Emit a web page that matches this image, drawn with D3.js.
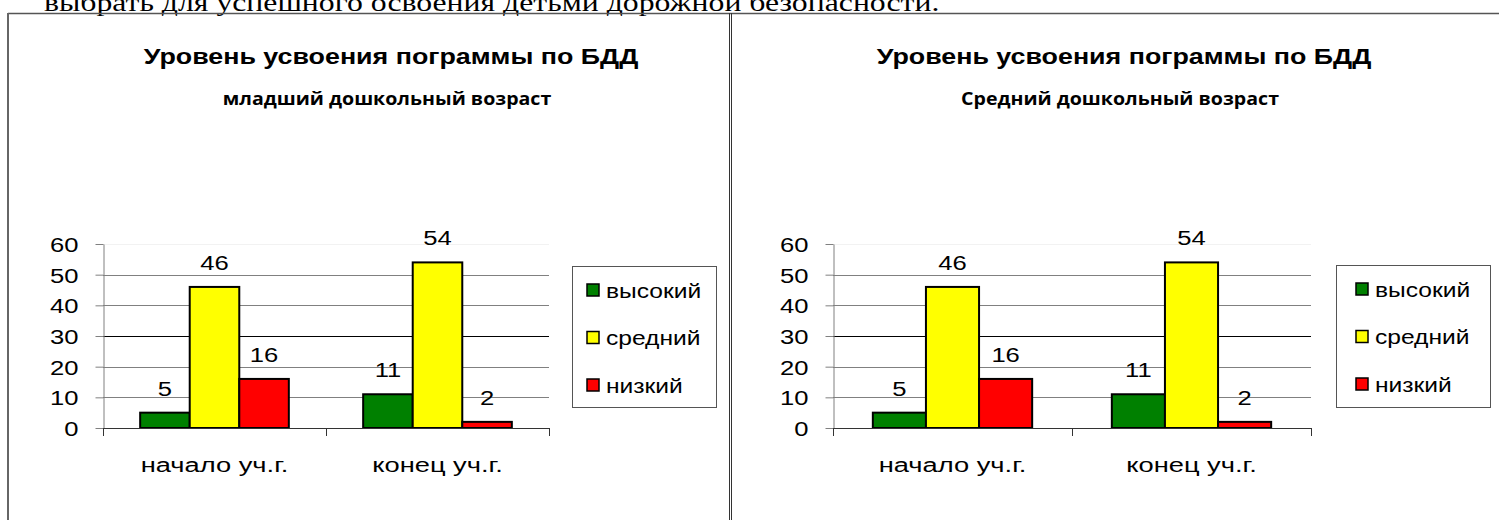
<!DOCTYPE html>
<html>
<head>
<meta charset="utf-8">
<script src="https://cdn.jsdelivr.net/npm/d3@7"></script>
<style>
  body { margin: 0; background: #fff; }
  svg { display: block; }
</style>
</head>
<body>
<svg id="grafica"></svg>
<script>
// datos de la grafica (los dos paneles tienen los mismos valores)
const categorias = ["начало уч.г.", "конец уч.г."];
const series = ["высокий", "средний", "низкий"];
const colores = ["#008000", "#ffff00", "#ff0000"];
const valoresMladshiy = {
  "высокий": [5, 11],
  "средний": [46, 54],
  "низкий": [16, 2]
};
const valoresSredniy = {
  "высокий": [5, 11],
  "средний": [46, 54],
  "низкий": [16, 2]
};
const ticksY = [0, 10, 20, 30, 40, 50, 60];
const titulo = "Уровень усвоения  пограммы по БДД";
const subtitulos = ["младший дошкольный возраст", "Средний дошкольный возраст"];
const textoArriba = "выбрать для успешного освоения детьми дорожной безопасности.";

const ancho = 1499, alto = 520;
const SX = 1.27; // el original esta estirado a lo ancho
const fuente = "'Liberation Sans', Arial, sans-serif";

const svg = d3.select("#grafica").attr("width", ancho).attr("height", alto);

// texto estirado horizontalmente
function texto(g, x, y, str, size, opts = {}) {
  return g.append("text")
    .attr("transform", `translate(${x},${y}) scale(${opts.sx || SX},1)`)
    .attr("text-anchor", opts.anchor || "middle")
    .attr("font-family", opts.family || fuente)
    .attr("font-size", size)
    .attr("font-weight", opts.weight || "normal")
    .attr("fill", "#000")
    .text(str);
}

// texto de documento cortado arriba
texto(svg, 44, 11, textoArriba, 25, { anchor: "start", family: "'Liberation Serif', 'Times New Roman', serif", sx: 1.27 });

// marcos
svg.append("line").attr("x1", 8).attr("x2", ancho).attr("y1", 13.5).attr("y2", 13.5)
  .attr("stroke", "#555").attr("stroke-width", 1.5);
svg.append("line").attr("x1", 8).attr("x2", 8).attr("y1", 13).attr("y2", alto)
  .attr("stroke", "#666").attr("stroke-width", 2);
[729.5, 731.5].forEach(x => {
  svg.append("line").attr("x1", x).attr("x2", x).attr("y1", 13).attr("y2", alto)
    .attr("stroke", "#333").attr("stroke-width", 1);
});

const paneles = [
  { datos: valoresMladshiy, subtitulo: subtitulos[0], plotX: 103, plotW: 446, tituloX: 391,
    leyenda: { x: 572, y: 266, w: 144, h: 141, dx: 15 } },
  { datos: valoresSredniy, subtitulo: subtitulos[1], plotX: 833, plotW: 478, tituloX: 1124,
    leyenda: { x: 1336, y: 265, w: 154, h: 142, dx: 20 } }
];

const plotTop = 244, plotBottom = 428;

paneles.forEach(p => {
  const g = svg.append("g");

  texto(g, p.tituloX, 64, titulo, 22, { weight: "bold", sx: 1.22 });
  texto(g, p.tituloX - 4, 105, p.subtitulo, 17.5, { weight: "bold", family: "'Open Sans', sans-serif", sx: 1.12 });

  const y = d3.scaleLinear().domain([0, 60]).range([plotBottom, plotTop]);
  const x = d3.scaleBand().domain(categorias)
    .range([p.plotX, p.plotX + p.plotW])
    .paddingInner(1 / 3).paddingOuter(1 / 6);
  const xs = d3.scaleBand().domain(series).range([0, x.bandwidth()]);

  // lineas de cuadricula
  g.append("g")
    .selectAll("line")
    .data(ticksY.filter(d => d > 0))
    .join("line")
    .attr("x1", p.plotX).attr("x2", p.plotX + p.plotW)
    .attr("y1", d => Math.round(y(d)) + 0.5).attr("y2", d => Math.round(y(d)) + 0.5)
    .attr("stroke", d => d === 60 ? "#f2f2f2" : (d === 30 ? "#000" : "#808080"))
    .attr("stroke-width", 1);

  // eje Y
  const ejeY = g.append("g")
    .attr("transform", `translate(${p.plotX + 0.5},0)`)
    .call(d3.axisLeft(y).tickValues(ticksY).tickSize(8).tickPadding(0).tickSizeOuter(0));
  ejeY.select(".domain").attr("stroke", "#808080");
  ejeY.selectAll(".tick line").attr("stroke", "#808080");
  ejeY.selectAll(".tick text")
    .attr("x", null).attr("dy", null)
    .attr("transform", `translate(-25,7.5) scale(1.22,1)`)
    .attr("font-family", fuente).attr("font-size", 21).attr("fill", "#000");

  // barras
  const grupos = g.append("g")
    .selectAll("g")
    .data(categorias.map((c, i) => ({ c, i })))
    .join("g")
    .attr("transform", d => `translate(${x(d.c)},0)`);

  grupos.selectAll("rect")
    .data(d => series.map((s, k) => ({ s, k, v: p.datos[s][d.i] })))
    .join("rect")
    .attr("x", d => xs(d.s))
    .attr("y", d => y(d.v))
    .attr("width", xs.bandwidth())
    .attr("height", d => y(0) - y(d.v))
    .attr("fill", d => colores[d.k])
    .attr("stroke", "#000")
    .attr("stroke-width", 2);

  grupos.each(function (d) {
    const gg = d3.select(this);
    series.forEach(s => {
      const v = p.datos[s][d.i];
      texto(gg, xs(s) + xs.bandwidth() / 2, y(v) - 17, v, 21, { sx: 1.22 });
    });
  });

  // eje X
  g.append("line")
    .attr("x1", p.plotX).attr("x2", p.plotX + p.plotW)
    .attr("y1", plotBottom + 0.5).attr("y2", plotBottom + 0.5)
    .attr("stroke", "#333");
  const bordes = categorias.map(c => x(c) - x.step() * x.paddingInner() / 2).concat([p.plotX + p.plotW]);
  g.append("g").selectAll("line")
    .data(bordes)
    .join("line")
    .attr("x1", d => Math.round(d) + 0.5).attr("x2", d => Math.round(d) + 0.5)
    .attr("y1", plotBottom).attr("y2", plotBottom + 8)
    .attr("stroke", "#333");
  categorias.forEach(c => {
    texto(g, x(c) + x.bandwidth() / 2, 472, c, 21, { sx: 1.3 });
  });

  // leyenda
  const L = p.leyenda;
  const ley = g.append("g");
  ley.append("rect")
    .attr("x", L.x + 0.5).attr("y", L.y + 0.5)
    .attr("width", L.w).attr("height", L.h)
    .attr("fill", "#fff").attr("stroke", "#555");
  series.forEach((s, k) => {
    const cy = L.y + 24 + k * 47.5;
    ley.append("rect")
      .attr("x", L.x + L.dx).attr("y", cy - 6)
      .attr("width", 12).attr("height", 12)
      .attr("fill", colores[k]).attr("stroke", "#000").attr("stroke-width", 1.5);
    texto(ley, L.x + L.dx + 19, cy + 7.5, s, 20.5, { anchor: "start", sx: 1.2 });
  });
});
</script>
</body>
</html>
